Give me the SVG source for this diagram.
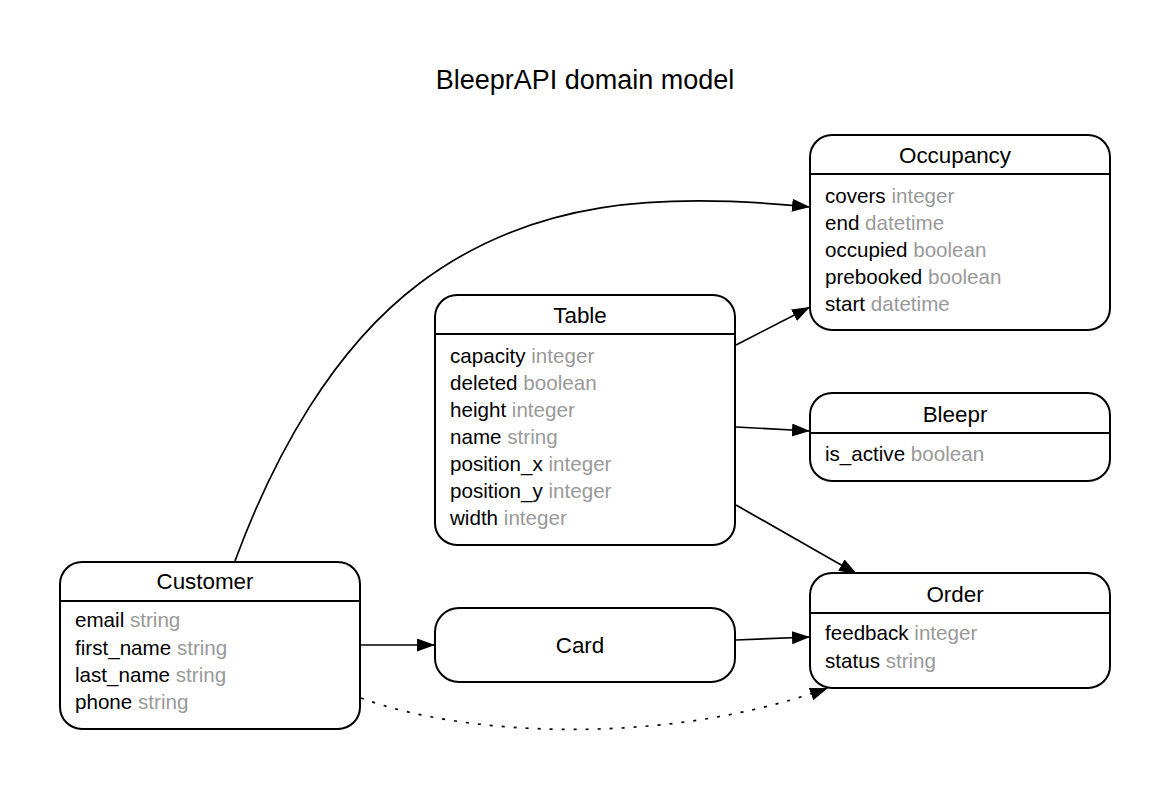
<svg xmlns="http://www.w3.org/2000/svg" width="1170" height="791" viewBox="0 0 1170 791">
<style>
  text { font-family: "Liberation Sans", Arial, Helvetica, sans-serif; fill: #000; }
  .title { font-size: 27px; text-anchor: middle; }
  .name { font-size: 22.4px; text-anchor: middle; }
  .attr { font-size: 20.6px; }
  .type { fill: #999999; }
  .box { fill: #fff; stroke: #000; stroke-width: 2; }
  .sep { stroke: #000; stroke-width: 2; }
  .edge { fill: none; stroke: #000; stroke-width: 1.7; marker-end: url(#arrow); }
  .dotted { stroke-dasharray: 3 9; }
</style>
<defs>
  <marker id="arrow" markerUnits="userSpaceOnUse" markerWidth="20" markerHeight="16" refX="18" refY="6.5" orient="auto">
    <path d="M0,0 L18,6.5 L0,13 z" fill="#000"/>
  </marker>
</defs>
<rect width="1170" height="791" fill="#fff"/>
<text class="title" x="585" y="89">BleeprAPI domain model</text>

<g id="connectors">
  <path class="edge" d="M235,561 C273,458 332,349 420,283 C532,199 660,192 810,207"/>
  <path class="edge" d="M736,345 L810,307"/>
  <path class="edge" d="M736,427 L810,431"/>
  <path class="edge" d="M736,505 L857,574"/>
  <path class="edge" d="M361,645 L435,645"/>
  <path class="edge" d="M736,640 L810,637"/>
  <path class="edge dotted" d="M361,698 C460,735 660,748 828,688"/>
</g>

<g id="node-occupancy">
  <rect class="box" x="810" y="135" width="300" height="195" rx="22" ry="22"/>
  <line class="sep" x1="810" y1="174" x2="1110" y2="174"/>
  <text class="name" x="955" y="163">Occupancy</text>
  <text class="attr" x="825" y="203">covers <tspan class="type">integer</tspan></text>
  <text class="attr" x="825" y="230">end <tspan class="type">datetime</tspan></text>
  <text class="attr" x="825" y="257">occupied <tspan class="type">boolean</tspan></text>
  <text class="attr" x="825" y="284">prebooked <tspan class="type">boolean</tspan></text>
  <text class="attr" x="825" y="311">start <tspan class="type">datetime</tspan></text>
</g>

<g id="node-table">
  <rect class="box" x="435" y="295" width="300" height="250" rx="22" ry="22"/>
  <line class="sep" x1="435" y1="334" x2="735" y2="334"/>
  <text class="name" x="580" y="323">Table</text>
  <text class="attr" x="450" y="363">capacity <tspan class="type">integer</tspan></text>
  <text class="attr" x="450" y="390">deleted <tspan class="type">boolean</tspan></text>
  <text class="attr" x="450" y="417">height <tspan class="type">integer</tspan></text>
  <text class="attr" x="450" y="444">name <tspan class="type">string</tspan></text>
  <text class="attr" x="450" y="471">position_x <tspan class="type">integer</tspan></text>
  <text class="attr" x="450" y="498">position_y <tspan class="type">integer</tspan></text>
  <text class="attr" x="450" y="525">width <tspan class="type">integer</tspan></text>
</g>

<g id="node-bleepr">
  <rect class="box" x="810" y="393" width="300" height="88" rx="22" ry="22"/>
  <line class="sep" x1="810" y1="433" x2="1110" y2="433"/>
  <text class="name" x="955" y="422">Bleepr</text>
  <text class="attr" x="825" y="461">is_active <tspan class="type">boolean</tspan></text>
</g>

<g id="node-customer">
  <rect class="box" x="60" y="562" width="300" height="167" rx="22" ry="22"/>
  <line class="sep" x1="60" y1="601" x2="360" y2="601"/>
  <text class="name" x="205" y="589">Customer</text>
  <text class="attr" x="75" y="627">email <tspan class="type">string</tspan></text>
  <text class="attr" x="75" y="655">first_name <tspan class="type">string</tspan></text>
  <text class="attr" x="75" y="682">last_name <tspan class="type">string</tspan></text>
  <text class="attr" x="75" y="709">phone <tspan class="type">string</tspan></text>
</g>

<g id="node-card">
  <rect class="box" x="435" y="608" width="300" height="74" rx="24" ry="24"/>
  <text class="name" x="580" y="653">Card</text>
</g>

<g id="node-order">
  <rect class="box" x="810" y="573" width="300" height="115" rx="22" ry="22"/>
  <line class="sep" x1="810" y1="613" x2="1110" y2="613"/>
  <text class="name" x="955" y="602">Order</text>
  <text class="attr" x="825" y="640">feedback <tspan class="type">integer</tspan></text>
  <text class="attr" x="825" y="668">status <tspan class="type">string</tspan></text>
</g>
</svg>
